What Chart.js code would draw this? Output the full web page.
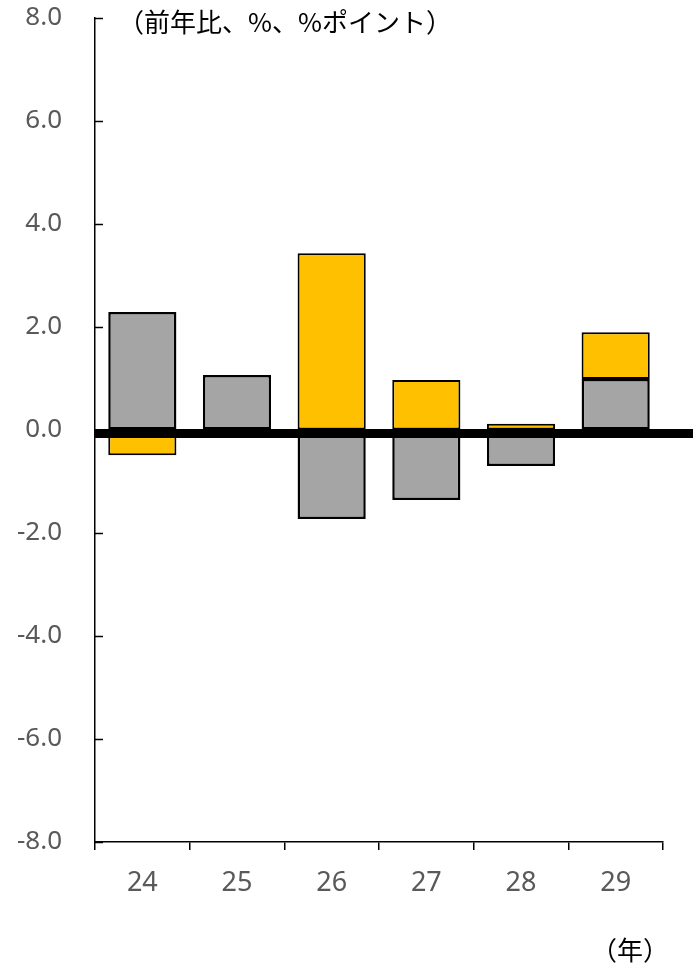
<!DOCTYPE html>
<html>
<head>
<meta charset="utf-8">
<script src="https://cdn.jsdelivr.net/npm/chart.js@4"></script>
<style>
  html, body { margin: 0; padding: 0; background: #fff; }
  #wrap { width: 697px; height: 970px; }
</style>
</head>
<body>
<div id="wrap"><canvas id="myChart" width="697" height="970"></canvas></div>
<script>
// years (category labels)
const years = ['24', '25', '26', '27', '28', '29'];
// gray series
const grayValues = [2.29, 1.07, -1.73, -1.36, -0.70, 0.99];
// yellow series
const yellowValues = [-0.49, 0, 3.43, 0.97, 0.12, 0.91];
// y ticks
const yMin = -8;
const yMax = 8;
const yStep = 2;
// thick base line value
const baseLine = -0.07;

const titleText = '（前年比、%、%ポイント）';
const unitText = '（年）';

const tickFont = { family: "'Noto Sans', 'Open Sans', sans-serif", size: 26 };

const extras = {
  id: 'extras',
  afterDatasetsDraw(chart) {
    const ctx = chart.ctx;
    const y = chart.scales.y;
    const area = chart.chartArea;
    ctx.save();
    // inward y ticks
    ctx.strokeStyle = '#000';
    ctx.lineWidth = 1.5;
    y.ticks.forEach(t => {
      const py = Math.round(y.getPixelForValue(t.value)) + 0.5;
      ctx.beginPath();
      ctx.moveTo(area.left, py);
      ctx.lineTo(area.left + 8, py);
      ctx.stroke();
    });
    // thick base line
    const by = y.getPixelForValue(baseLine);
    ctx.lineWidth = 9;
    ctx.beginPath();
    ctx.moveTo(area.left, by);
    ctx.lineTo(chart.width - 4, by);
    ctx.stroke();
    // texts
    ctx.fillStyle = '#000';
    ctx.font = "26px 'Noto Sans CJK JP', sans-serif";
    ctx.textBaseline = 'middle';
    ctx.textAlign = 'left';
    ctx.fillText(titleText, 118, 22);
    ctx.font = "26px 'Noto Sans CJK JP', sans-serif";
    ctx.fillText(unitText, 591, 950);
    ctx.restore();
  }
};

const data = {
  labels: years,
  datasets: [{
    label: 'gray',
    data: grayValues,
    backgroundColor: '#A5A5A5',
    borderColor: '#000',
    borderWidth: 2.5,
    borderSkipped: false,
    barPercentage: 0.72,
    categoryPercentage: 1
  }, {
    label: 'yellow',
    data: yellowValues,
    backgroundColor: '#FFC000',
    borderColor: '#000',
    borderWidth: 2,
    borderSkipped: false,
    barPercentage: 0.72,
    categoryPercentage: 1
  }]
};

const config = {
  type: 'bar',
  data: data,
  options: {
    responsive: false,
    animation: false,
    layout: { padding: { top: 18, right: 34, left: 0, bottom: 0 } },
    plugins: { legend: { display: false }, tooltip: { enabled: false } },
    scales: {
      x: {
        stacked: true,
        afterFit(s) { s.height = 128; s.paddingLeft = 0; s.paddingRight = 0; },
        grid: { offset: true, drawOnChartArea: false, drawTicks: true, tickLength: 8, color: '#000', lineWidth: 1.5 },
        border: { display: true, color: '#000', width: 1.5 },
        ticks: { color: '#595959', font: { family: tickFont.family, size: 27 }, padding: 17, maxRotation: 0 }
      },
      y: {
        stacked: true,
        min: yMin,
        max: yMax,
        afterFit(s) { s.width = 95; s.paddingTop = 0; s.paddingBottom = 0; },
        grid: { drawOnChartArea: false, drawTicks: false },
        border: { display: true, color: '#000', width: 1.5 },
        ticks: {
          stepSize: yStep,
          color: '#595959',
          font: tickFont,
          padding: 33,
          callback: v => v.toFixed(1)
        }
      }
    }
  },
  plugins: [extras]
};

const myChart = new Chart(document.getElementById('myChart'), config);
</script>
</body>
</html>
